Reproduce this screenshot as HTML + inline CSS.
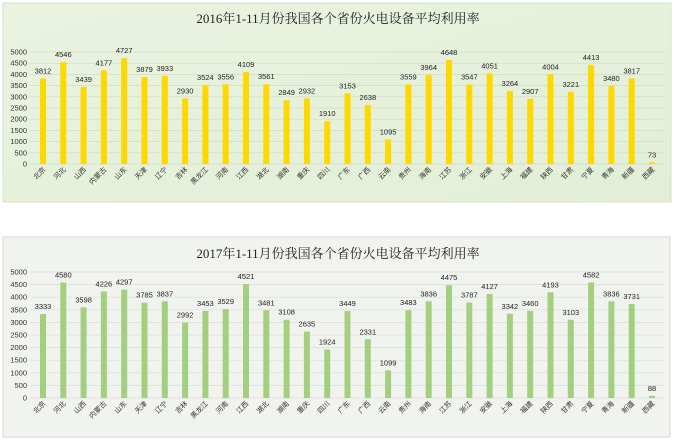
<!DOCTYPE html>
<html><head><meta charset="utf-8"><style>
body{margin:0;background:#fff;width:674px;height:441px;overflow:hidden}
svg{display:block;font-family:"Liberation Sans","Noto Sans CJK SC",sans-serif}
</style></head><body>
<svg id="s" width="674" height="441" xmlns="http://www.w3.org/2000/svg">
<defs>
<linearGradient id="g1" x1="0" y1="0" x2="1" y2="1"><stop offset="0" stop-color="#eaf3e0"/><stop offset="1" stop-color="#e2efd6"/></linearGradient>
</defs>
<rect x="3" y="3" width="668" height="199" fill="url(#g1)" stroke="#d6e2cc"/>
<rect x="3" y="237" width="667" height="200" fill="#f1f3ee" stroke="#d4d8d0"/>
<text x="338" y="23" text-anchor="middle" font-size="13" font-family="Liberation Serif,Noto Serif CJK SC,serif" fill="#222">2016年1-11月份我国各个省份火电设备平均利用率</text>
<text x="338" y="258" text-anchor="middle" font-size="13" font-family="Liberation Serif,Noto Serif CJK SC,serif" fill="#222">2017年1-11月份我国各个省份火电设备平均利用率</text>
</svg>
<script>
const N=["北京","河北","山西","内蒙古","山东","天津","辽宁","吉林","黑龙江","河南","江西","湖北","湖南","重庆","四川","广东","广西","云南","贵州","海南","江苏","浙江","安徽","上海","福建","陕西","甘肃","宁夏","青海","新疆","西藏"];
const A=[3812,4546,3439,4177,4727,3879,3933,2930,3524,3556,4109,3561,2849,2932,1910,3153,2638,1095,3559,3964,4648,3547,4051,3264,2907,4004,3221,4413,3480,3817,73];
const B=[3333,4580,3598,4226,4297,3785,3837,2992,3453,3529,4521,3481,3108,2635,1924,3449,2331,1099,3483,3836,4475,3787,4127,3342,3460,4193,3103,4582,3836,3731,88];
const s=document.getElementById('s');let h='';
function chart(d,top,bot,col,grid){
 const k=(bot-top)/5000;
 for(let v=0;v<=5000;v+=500){const y=bot-v*k;
  h+=`<line x1="30" x2="664" y1="${y}" y2="${y}" stroke="${grid}" stroke-width="0.7"/>`;
  h+=`<text x="27" y="${y+2.5}" text-anchor="end" font-size="7.5" fill="#333">${v}</text>`;}
 d.forEach((v,i)=>{const x=43+i*20.3;const y=bot-v*k;
  h+=`<rect x="${x-3}" y="${y}" width="6" height="${v*k}" fill="${col}"/>`;
  h+=`<text x="${x}" y="${y-5}" text-anchor="middle" font-size="7.5" fill="#222">${v}</text>`;
  h+=`<text transform="translate(${x+3},${bot+6}) rotate(-45)" text-anchor="end" font-size="7" fill="#333">${N[i]}</text>`;});
}
chart(A,52,164,"#ffd800","#d0dcc6");
chart(B,272,398,"#a3d07f","#dcdcd8");
s.insertAdjacentHTML('beforeend',h);
</script>
</body></html>
